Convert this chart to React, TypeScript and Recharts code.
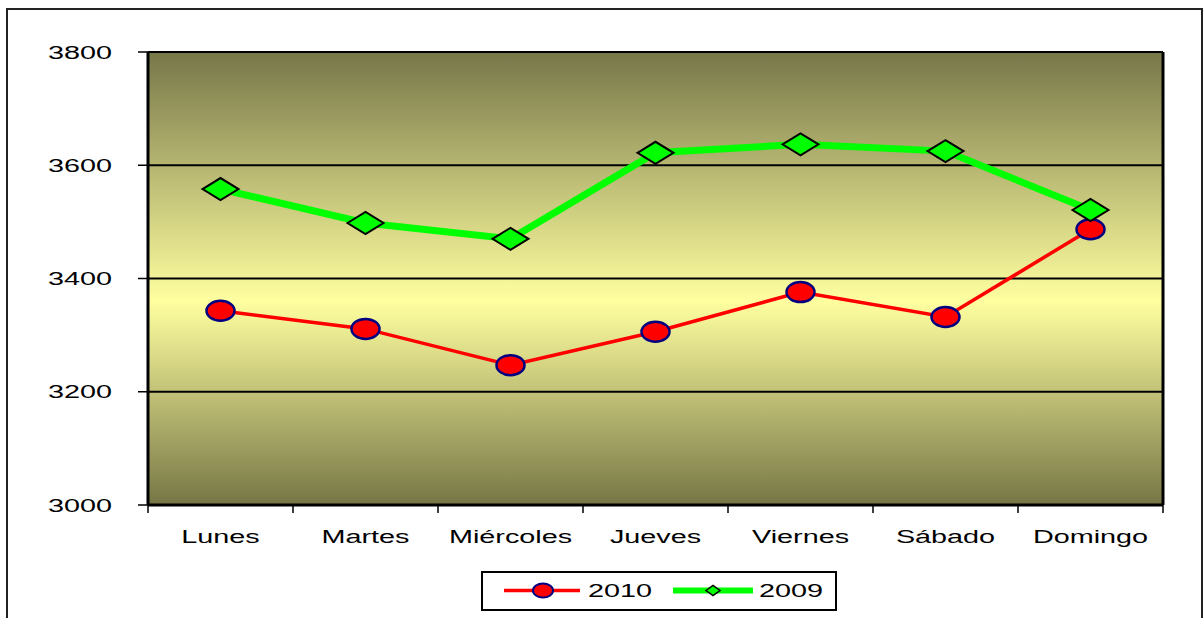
import React from "react";
import {
  CartesianGrid,
  Line,
  LineChart,
  ReferenceLine,
  XAxis,
  YAxis,
} from "recharts";

const days = ["Lunes", "Martes", "Miércoles", "Jueves", "Viernes", "Sábado", "Domingo"];
const values2010 = [3343, 3311, 3247, 3306, 3376, 3332, 3487];
const values2009 = [3558, 3498, 3470, 3622, 3637, 3625, 3521];
const yTicks = [3000, 3200, 3400, 3600, 3800];
const xEdges = [0, 1, 2, 3, 4, 5, 6, 7];

const data = days.map((day, i) => ({
  day,
  pos: i + 0.5,
  v2010: values2010[i],
  v2009: values2009[i],
}));

const FONT = "'Liberation Sans', Arial, sans-serif";
const STRETCH = 1.6;

function Ellipse(props: any) {
  const { cx, cy, index } = props;
  if (cx == null || cy == null) return null;
  return (
    <ellipse key={`e-${index}`} cx={cx} cy={cy} rx={14} ry={10} fill="#ff0000" stroke="#000080" strokeWidth={2.5} />
  );
}

function Diamond(props: any) {
  const { cx, cy, index } = props;
  if (cx == null || cy == null) return null;
  const w = 18;
  const h = 11;
  return (
    <polygon
      key={`d-${index}`}
      points={`${cx - w},${cy} ${cx},${cy - h} ${cx + w},${cy} ${cx},${cy + h}`}
      fill="#00ff00"
      stroke="#000"
      strokeWidth={2}
    />
  );
}

function DayTick(props: any) {
  const { x, y, payload, width } = props;
  const i = payload.value;
  if (i >= days.length) return null;
  const half = (Number(width) || 1015) / 7 / 2;
  return (
    <text
      transform={`translate(${x + half},${y + 28}) scale(${STRETCH},1)`}
      textAnchor="middle"
      fontFamily={FONT}
      fontSize={18}
      fill="#000"
    >
      {days[i]}
    </text>
  );
}

function ValueTick(props: any) {
  const { x, y, payload } = props;
  return (
    <text
      transform={`translate(${x},${y + 6.5}) scale(${STRETCH},1)`}
      textAnchor="end"
      fontFamily={FONT}
      fontSize={18}
      fill="#000"
    >
      {payload.value}
    </text>
  );
}

function LegendBox() {
  return (
    <svg
      width={356}
      height={40}
      style={{ position: "absolute", left: 481, top: 571 }}
    >
      <rect x={1} y={1} width={354} height={38} fill="#fff" stroke="#000" strokeWidth={2} />
      <line x1={23} y1={19.5} x2={99} y2={19.5} stroke="#ff0000" strokeWidth={3.5} />
      <ellipse cx={62} cy={19.5} rx={10} ry={7} fill="#ff0000" stroke="#000080" strokeWidth={2} />
      <text
        transform={`translate(107,26) scale(${STRETCH},1)`}
        fontFamily={FONT}
        fontSize={18}
        fill="#000"
      >
        2010
      </text>
      <line x1={192} y1={19.5} x2={272} y2={19.5} stroke="#00ff00" strokeWidth={6} />
      <polygon
        points="225,19.5 232,14.5 239,19.5 232,24.5"
        fill="#00ff00"
        stroke="#000"
        strokeWidth={1.5}
      />
      <text
        transform={`translate(278,26) scale(${STRETCH},1)`}
        fontFamily={FONT}
        fontSize={18}
        fill="#000"
      >
        2009
      </text>
    </svg>
  );
}

export default function App() {
  return (
    <div
      style={{
        position: "fixed",
        left: 0,
        top: 0,
        width: 1203,
        height: 618,
        background: "#fff",
        overflow: "hidden",
      }}
    >
      <div
        style={{
          position: "absolute",
          left: 6,
          top: 8,
          width: 1193,
          height: 640,
          border: "2px solid #222",
        }}
      />
      <div style={{ position: "absolute", left: 0, top: 0 }}>
        <LineChart
          width={1203}
          height={618}
          data={data}
          margin={{ top: 52, right: 40, bottom: 73, left: 88 }}
        >
          <defs>
            <linearGradient id="plotBg" x1="0" y1="0" x2="0" y2="1">
              <stop offset="0%" stopColor="#77774a" />
              <stop offset="55%" stopColor="#ffffa0" />
              <stop offset="100%" stopColor="#767646" />
            </linearGradient>
          </defs>
          <CartesianGrid
            vertical={false}
            fill="url(#plotBg)"
            stroke="#000"
            strokeWidth={2}
          />
          <XAxis
            dataKey="pos"
            type="number"
            domain={[0, 7]}
            ticks={xEdges}
            interval={0}
            height={40}
            tickSize={8}
            axisLine={{ stroke: "#000", strokeWidth: 3 }}
            tickLine={{ stroke: "#000", strokeWidth: 1.5 }}
            tick={<DayTick />}
          />
          <YAxis
            domain={[3000, 3800]}
            ticks={yTicks}
            width={60}
            tickSize={10}
            tickMargin={26}
            axisLine={{ stroke: "#000", strokeWidth: 3 }}
            tickLine={{ stroke: "#000", strokeWidth: 1.5 }}
            tick={<ValueTick />}
          />
          <ReferenceLine x={7} stroke="#000" strokeWidth={3} />
          <Line
            type="linear"
            dataKey="v2010"
            stroke="#ff0000"
            strokeWidth={3.5}
            dot={<Ellipse />}
            activeDot={false}
            isAnimationActive={false}
          />
          <Line
            type="linear"
            dataKey="v2009"
            stroke="#00ff00"
            strokeWidth={7}
            dot={<Diamond />}
            activeDot={false}
            isAnimationActive={false}
          />
        </LineChart>
      </div>
      <LegendBox />
    </div>
  );
}
